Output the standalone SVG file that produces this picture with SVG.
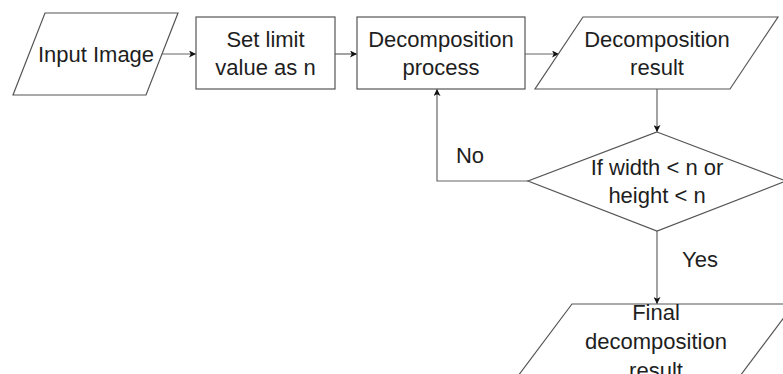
<svg xmlns="http://www.w3.org/2000/svg" width="783" height="374" viewBox="0 0 783 374">
<style>
.shape{fill:#ffffff;stroke:#555555;stroke-width:1.2}
.conn{fill:none;stroke:#666666;stroke-width:1.2}
text{font-family:"Liberation Sans",Arial,sans-serif;font-size:22px;fill:#1e1e1e;text-anchor:middle}
</style>
<defs>
<marker id="arrow" viewBox="0 0 10 10" refX="10" refY="5" markerWidth="7" markerHeight="7" markerUnits="userSpaceOnUse" orient="auto">
<path d="M0,0 L10,5 L0,10 L2.5,5 Z" fill="#111111"/>
</marker>
</defs>
<rect width="783" height="374" fill="#ffffff"/>
<g id="connectors">
<line class="conn" x1="162" y1="54" x2="196" y2="54" marker-end="url(#arrow)"/>
<line class="conn" x1="335" y1="54" x2="357" y2="54" marker-end="url(#arrow)"/>
<line class="conn" x1="525" y1="54" x2="559" y2="54" marker-end="url(#arrow)"/>
<line class="conn" x1="657" y1="89" x2="657" y2="132" marker-end="url(#arrow)"/>
<polyline class="conn" points="528,181 437,181 437,89" marker-end="url(#arrow)"/>
<line class="conn" x1="657" y1="231" x2="657" y2="304" marker-end="url(#arrow)"/>
<text x="470" y="163">No</text>
<text x="700" y="267">Yes</text>
</g>
<g id="input-image">
<polygon class="shape" points="45,13 178,13 146,95 13,95"/>
<text x="96" y="62">Input Image</text>
</g>
<g id="set-limit">
<rect class="shape" x="196" y="17" width="139" height="72"/>
<text x="265.5" y="47">Set limit</text>
<text x="265.5" y="75">value as n</text>
</g>
<g id="decomposition-process">
<rect class="shape" x="357" y="17" width="168" height="72"/>
<text x="441" y="47">Decomposition</text>
<text x="441" y="75">process</text>
</g>
<g id="decomposition-result">
<polygon class="shape" points="583,17 778,17 730,89 535,89"/>
<text x="657" y="47">Decomposition</text>
<text x="657" y="75">result</text>
</g>
<g id="condition">
<polygon class="shape" points="657,132 786,181 657,231 528,181"/>
<text x="657" y="175">If width &lt; n or</text>
<text x="657" y="203">height &lt; n</text>
</g>
<g id="final-result">
<polygon class="shape" points="572,304 794,304 740,376 518,376"/>
<text x="656" y="320">Final</text>
<text x="656" y="349">decomposition</text>
<text x="656" y="378">result</text>
</g>
</svg>
